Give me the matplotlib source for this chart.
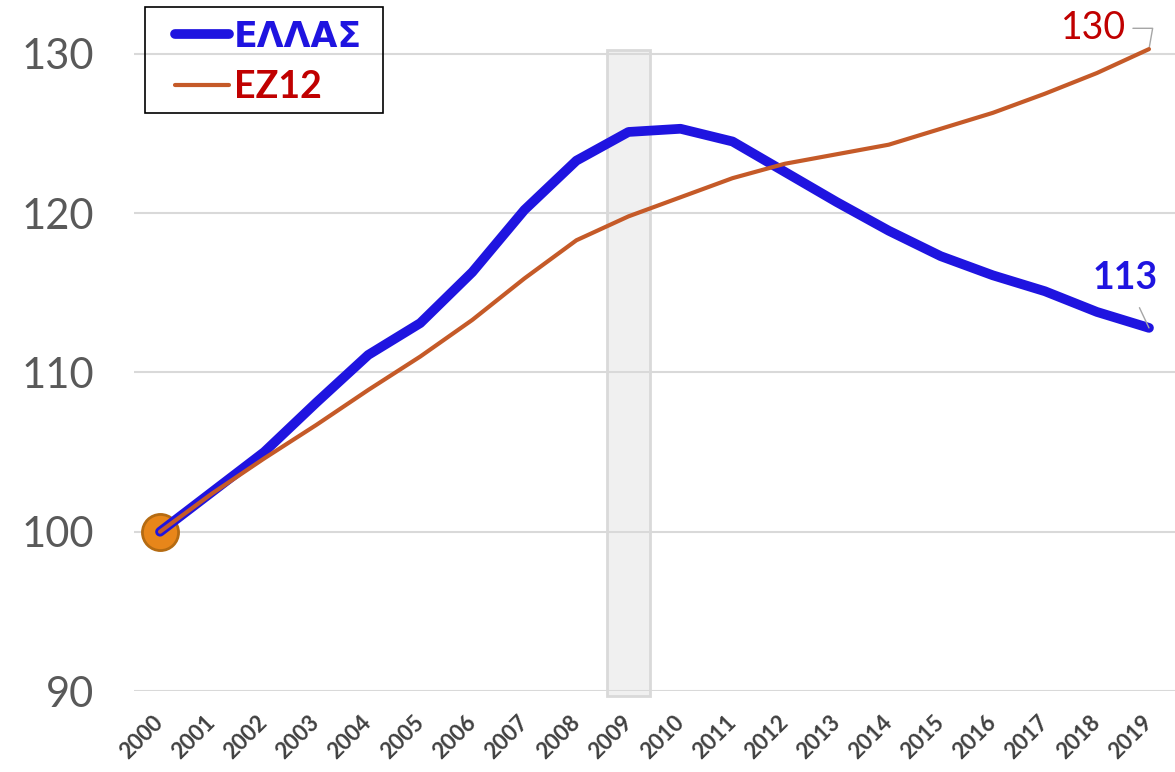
import numpy as np
import matplotlib.pyplot as plt
from matplotlib.patches import Rectangle

plt.rcParams['font.family'] = ['Lato', 'Open Sans', 'DejaVu Sans']

years = [str(y) for y in range(2000, 2020)]
ellas = [100, 102.5, 105.0, 108.1, 111.1, 113.1, 116.3, 120.2, 123.3, 125.1,
         125.3, 124.5, 122.6, 120.7, 118.9, 117.3, 116.1, 115.1, 113.8, 112.8]
ez12 = [100, 102.4, 104.6, 106.7, 108.9, 111.0, 113.3, 115.9, 118.3, 119.8,
        121.0, 122.2, 123.1, 123.7, 124.3, 125.3, 126.3, 127.5, 128.8, 130.3]
crisis_year = '2009'
yticks = [90, 100, 110, 120, 130]

x = np.arange(len(years))

fig = plt.figure(figsize=(11.75, 7.72), dpi=100)
ax = fig.add_axes([134 / 1175, 0.1049, 1 - 134 / 1175, 0.8459])

# grey band for 2009
ci = years.index(crisis_year)
ax.bar(ci, 130.25 - 89.69, bottom=89.69, width=0.82, color='#F0F0F0',
       edgecolor='#D9D9D9', linewidth=2, zorder=1, clip_on=False)

ax.plot(x, ellas, color='#1F14E0', lw=7, solid_capstyle='round',
        solid_joinstyle='round', zorder=3, label='ΕΛΛΑΣ')
ax.plot(x, ez12, color='#C55A28', lw=3, solid_capstyle='round', zorder=4, label='EZ12')
ax.plot(x[0], ellas[0], 'o', ms=26, color='#E8861A', mec='#B56B12', mew=2, zorder=2)

ax.set_xlim(-0.5, 19.5)
ax.set_ylim(90, 131)
ax.set_yticks(yticks)
ax.set_xticks(x)
ax.set_xticklabels(years, rotation=45, ha='right', va='center', rotation_mode='anchor',
                   fontsize=16, fontweight='bold', color='#404040')
ax.tick_params(axis='y', labelsize=30, labelcolor='#595959', length=0, pad=29)
ax.tick_params(axis='x', length=0, pad=20)
ax.grid(axis='y', color='#D9D9D9', lw=1.5, zorder=0)
for s in ax.spines.values():
    s.set_visible(False)

ax.annotate('130', xy=(x[-1], ez12[-1]), xytext=(-40, 15), textcoords='offset points',
            fontsize=27, color='#C00000', ha='center', va='center', annotation_clip=False,
            arrowprops=dict(arrowstyle='-', color='#A6A6A6', lw=1,
                            connectionstyle='angle,angleA=0,angleB=80,rad=0',
                            shrinkA=3, shrinkB=0))
ax.annotate('113', xy=(x[-1], ellas[-1]), xytext=(-17, 36), textcoords='offset points',
            fontsize=27, fontweight='bold', color='#1F14E0', ha='center', va='center',
            annotation_clip=False,
            arrowprops=dict(arrowstyle='-', color='#A6A6A6', lw=1, shrinkA=8, shrinkB=0))

leg = fig.legend(handles=ax.get_lines()[:2], loc='upper left',
                 bbox_to_anchor=(175 / 1175, 1 - 20 / 772), fontsize=27,
                 frameon=False, handlelength=1.45, handletextpad=0.12,
                 borderpad=0, borderaxespad=0, labelspacing=0.42)
for txt, c in zip(leg.get_texts(), ['#1F14E0', '#C00000']):
    txt.set_color(c)
    txt.set_fontweight('bold')
greek = leg.get_texts()[0]
greek.set_family('DejaVu Sans')
greek.set_fontweight('bold')
greek.set_fontsize(25)
fig.patches.append(Rectangle((145 / 1175, 1 - 113 / 772), 238 / 1175, 106 / 772,
                             transform=fig.transFigure, fill=False,
                             edgecolor='black', lw=1.2, zorder=5))

fig.savefig('out.png', dpi=100)
